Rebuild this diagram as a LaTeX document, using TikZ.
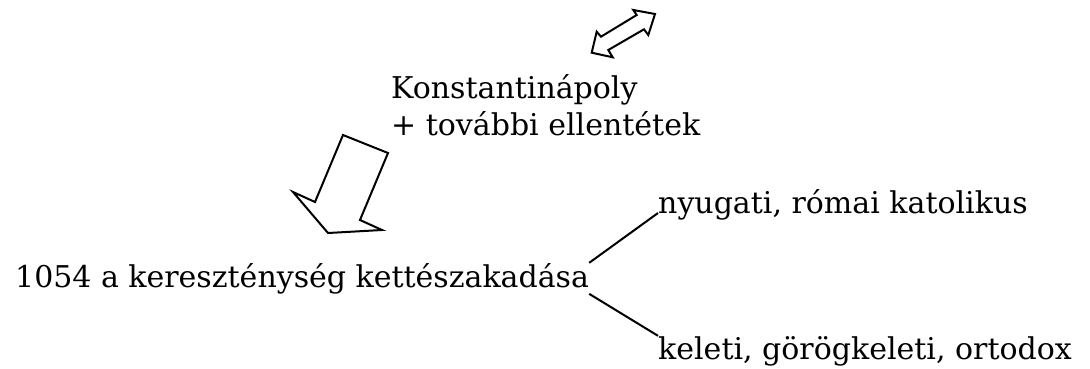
\documentclass[tikz,border=0pt]{standalone}
\usepackage{fontspec}
\setmainfont{DejaVu Serif}
\usetikzlibrary{positioning}

\begin{document}
\begin{tikzpicture}[
        x=1pt, y=-1pt,
        txt/.style={inner sep=0pt, anchor=base west, font=\fontsize{30}{36}\selectfont},
        branch/.style={line width=2pt},
        blockarrow/.style={line width=2pt, line join=miter, fill=white}
    ]
    \useasboundingbox (0,0) rectangle (1090,369);

    \node[txt] (konst) at (391,99) {Konstantinápoly};
    \node[txt] (tovabbi) at (391,135) {+ további ellentétek};
    \node[txt] (schism) at (15,287) {1054 a kereszténység kettészakadása};
    \node[txt] (west) at (658,213) {nyugati, római katolikus};
    \node[txt] (east) at (658,359) {keleti, görögkeleti, ortodox};

    % double arrow above the text
    \draw[blockarrow] (591.7,52.7) -- (596.7,31.7) -- (601,36.7) -- (636.7,15) -- (633.3,10)
        -- (655,14) -- (648.3,35) -- (644,29.3) -- (608.3,50) -- (612.7,57.3) -- cycle;
    % big arrow down to the schism
    \draw[blockarrow] (343,135) -- (388,153) -- (360,220) -- (382,230) -- (328,233)
        -- (293,192) -- (315,202) -- cycle;

    \draw[branch] (schism.north east) -- (west.base west);
    \draw[branch] (schism.south east) -- (east.north west);
\end{tikzpicture}
\end{document}
